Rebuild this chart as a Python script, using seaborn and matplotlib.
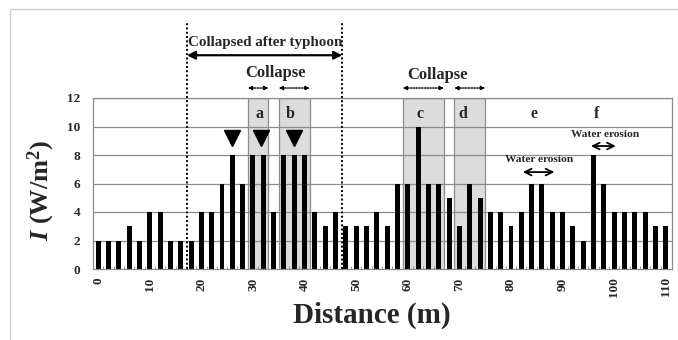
import matplotlib
matplotlib.use("Agg")
import matplotlib.pyplot as plt
import pandas as pd
import seaborn as sns

sns.set_theme(style="white")
plt.rcParams["font.family"] = ["Liberation Serif", "DejaVu Serif"]
plt.rcParams["font.weight"] = "bold"
plt.rcParams["mathtext.fontset"] = "custom"
plt.rcParams["mathtext.rm"] = "Liberation Serif:bold"
plt.rcParams["mathtext.it"] = "Liberation Serif:bold:italic"
plt.rcParams["mathtext.bf"] = "Liberation Serif:bold"

distance = [0, 2, 4, 6, 8, 10, 12, 14, 16, 18, 20, 22, 24, 26, 28, 30, 32, 34, 36, 38,
            40, 42, 44, 46, 48, 50, 52, 54, 56, 58, 60, 62, 64, 66, 68, 70, 72, 74, 76, 78,
            80, 82, 84, 86, 88, 90, 92, 94, 96, 98, 100, 102, 104, 106, 108, 110]
intensity = [2, 2, 2, 3, 2, 4, 4, 2, 2, 2, 4, 4, 6, 8, 6, 8, 8, 4, 8, 8,
             8, 4, 3, 4, 3, 3, 3, 4, 3, 6, 6, 10, 6, 6, 5, 3, 6, 5, 4, 4,
             3, 4, 6, 6, 4, 4, 3, 2, 8, 6, 4, 4, 4, 4, 3, 3]

# collapse zones a-d (start, end in m)
zone_labels = ["a", "b", "c", "d"]
zone_start = [29, 35, 59, 69]
zone_end = [33, 41, 67, 75]
letter_x = [31.3, 37.2, 62.3, 70.7, 84.5, 96.5]
letter_txt = ["a", "b", "c", "d", "e", "f"]
triangle_x = [26, 31.5, 38]
typhoon_range = [17.2, 47.3]

df = pd.DataFrame({"distance": distance, "intensity": intensity})

fig = plt.figure(figsize=(6.78, 3.40), dpi=100)
ax = fig.add_axes([93 / 678, 71 / 340, 579 / 678, 171 / 340])

for s, e in zip(zone_start, zone_end):
    ax.axvspan(s, e, ymin=0, ymax=1, facecolor="#dcdcdc", edgecolor="#8c8c8c", lw=0.9, zorder=0)

for yv in range(2, 13, 2):
    ax.axhline(yv, color="#8c8c8c", lw=0.9, zorder=0.5)

sns.barplot(data=df, x="distance", y="intensity", native_scale=True, color="black",
            width=0.48, saturation=1, edgecolor="black", linewidth=0, ax=ax, zorder=2)

ax.set_xlim(-1, 111.2)
ax.set_ylim(0, 12)
ax.set_xticks(range(0, 111, 10))
ax.set_xticks(range(0, 111, 1), minor=True)
ax.set_yticks(range(0, 13, 2))
ax.tick_params(axis="x", which="major", labelrotation=90, labelsize=9.5, length=0, pad=6)
ax.tick_params(axis="x", which="minor", direction="in", length=2.5, color="#999999", width=0.7, bottom=True)
ax.tick_params(axis="y", labelsize=9.5, length=0, pad=9)
for lab in ax.get_xticklabels() + ax.get_yticklabels():
    lab.set_fontweight("bold")
for sp in ax.spines.values():
    sp.set_color("#8c8c8c")
    sp.set_linewidth(0.9)

ax.set_xlabel("Distance (m)", fontsize=21, fontweight="bold")
ax.xaxis.set_label_coords(0.482, -0.19)
ax.set_ylabel("$I$ (W/m$^2$)", fontsize=19, fontweight="bold")
ax.yaxis.set_label_coords(-0.062, 0.46)

# letters and markers
for x, t in zip(letter_x, letter_txt):
    ax.text(x, 10.9, t, ha="center", va="center", fontsize=11.5, fontweight="bold", zorder=3)
ax.plot(triangle_x, [9.2] * len(triangle_x), linestyle="none", marker="v", ms=12,
        color="black", zorder=3)

# water erosion annotations
ax.text(85.5, 7.65, "Water erosion", ha="center", va="center", fontsize=8.2, fontweight="bold")
ax.annotate("", xy=(82.3, 6.8), xytext=(88.4, 6.8),
            arrowprops=dict(arrowstyle="<->", lw=1.3, color="black", shrinkA=0, shrinkB=0))
ax.text(98.2, 9.45, "Water erosion", ha="center", va="center", fontsize=8.2, fontweight="bold")
ax.annotate("", xy=(95.5, 8.63), xytext=(100.3, 8.63),
            arrowprops=dict(arrowstyle="<->", lw=1.3, color="black", shrinkA=0, shrinkB=0))

# above the axes
for xv in typhoon_range:
    ax.plot([xv, xv], [0, 17.3], color="black", linestyle=(0, (1, 1.2)), lw=1.4,
            clip_on=False, zorder=4)
ax.text(32.3, 15.9, "Collapsed after typhoon", ha="center", va="center", fontsize=10.8,
        fontweight="bold", clip_on=False)
ax.annotate("", xy=(typhoon_range[0], 15.0), xytext=(typhoon_range[1], 15.0),
            arrowprops=dict(arrowstyle="<|-|>", lw=1.6, color="black", mutation_scale=12,
                            shrinkA=0, shrinkB=0), annotation_clip=False)
ax.text(34.3, 13.75, "Collapse", ha="center", va="center", fontsize=12, fontweight="bold",
        clip_on=False)
ax.text(65.8, 13.6, "Collapse", ha="center", va="center", fontsize=12, fontweight="bold",
        clip_on=False)
for s, e in zip(zone_start, zone_end):
    ax.annotate("", xy=(s, 12.7), xytext=(e, 12.7),
                arrowprops=dict(arrowstyle="<|-|>", lw=1.0, color="black", linestyle=(0, (1, 1)),
                                mutation_scale=6, shrinkA=0, shrinkB=0), annotation_clip=False)

# light frame around the figure
fig.add_artist(plt.Line2D([10 / 678, 10 / 678], [0, 1 - 9 / 340], color="#d0d0d0", lw=1))
fig.add_artist(plt.Line2D([10 / 678, 1], [1 - 9 / 340, 1 - 9 / 340], color="#d0d0d0", lw=1))

fig.savefig("out.png", dpi=100)
